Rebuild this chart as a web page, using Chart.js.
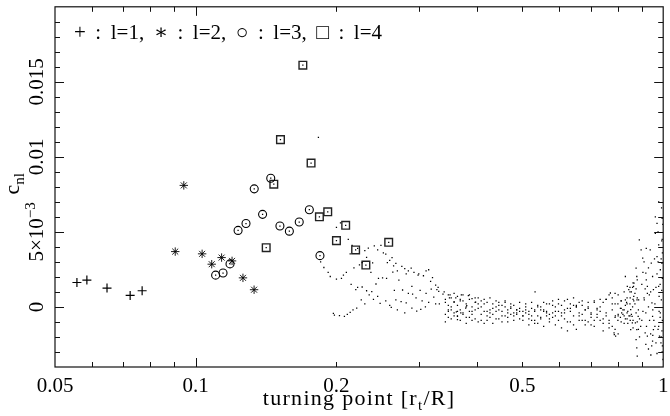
<!DOCTYPE html>
<html>
<head>
<meta charset="utf-8">
<script src="https://cdn.jsdelivr.net/npm/chart.js@4.4.1/dist/chart.umd.min.js"></script>
<style>
  html, body { margin: 0; padding: 0; background: #fff; }
</style>
</head>
<body>
<canvas id="cnlChart" width="670" height="416"></canvas>
<script>
// x = turning point r_t/R, y = c_nl in units of 1e-3
const l1X = [0.0557, 0.0585, 0.0646, 0.0724, 0.0768];
const l1Y = [1.63, 1.79, 1.26, 0.77, 1.08];

const l2X = [0.0904, 0.0943, 0.1032, 0.1082, 0.1136, 0.1196, 0.1262, 0.1333];
const l2Y = [3.69, 8.10, 3.54, 2.85, 3.29, 3.07, 1.94, 1.15];

const l3X = [0.1103, 0.1144, 0.1184, 0.1232, 0.1281, 0.1334, 0.1390, 0.1447, 0.1514, 0.1586, 0.1665, 0.1750, 0.1844];
const l3Y = [2.12, 2.26, 2.87, 5.10, 5.56, 7.87, 6.17, 8.58, 5.39, 5.05, 5.66, 6.48, 3.42];

const l4X = [0.1415, 0.1469, 0.1518, 0.1695, 0.1765, 0.1839, 0.1916, 0.2000, 0.2093, 0.2198, 0.2312, 0.2587];
const l4Y = [3.95, 8.18, 11.15, 16.11, 9.59, 6.01, 6.34, 4.42, 5.44, 3.80, 2.79, 4.31];

// all-mode dots, low turning points
const dotsLow = [
  [0.183, 11.30], [0.204, 5.61], [0.212, 4.51], [0.214, 3.54], [0.230, 3.76], [0.234, 3.92], [0.241, 4.07],
  [0.249, 4.11], [0.255, 3.52], [0.257, 2.96], [0.263, 3.29], [0.265, 2.74], [0.264, 2.32], [0.270, 2.41],
  [0.280, 2.56], [0.289, 2.59], [0.282, 2.21], [0.272, 1.79], [0.299, 2.12], [0.307, 2.08], [0.315, 2.48],
  [0.321, 1.96], [0.326, 1.46], [0.188, 2.63], [0.194, 2.03], [0.200, 1.86], [0.207, 2.12], [0.227, 2.96],
  [0.239, 2.94], [0.237, 2.30], [0.246, 1.90], [0.251, 1.94], [0.256, 1.90], [0.243, 1.53], [0.227, 1.33],
  [0.220, 1.15], [0.232, 1.08], [0.238, 1.02], [0.226, 0.48], [0.248, 0.24], [0.221, -0.07], [0.214, -0.36],
  [0.208, -0.62], [0.203, -0.58], [0.197, -0.42], [0.262, -0.03], [0.266, 1.10], [0.268, 0.48], [0.275, 0.35],
  [0.282, 0.27], [0.277, 1.13], [0.290, 1.37], [0.291, 0.86], [0.290, -0.07], [0.297, -0.27], [0.303, -0.16],
  [0.310, 0.00], [0.302, 1.10], [0.311, 0.90], [0.319, 1.19], [0.323, 0.66], [0.331, 1.04], [0.326, 0.20],
  [0.332, 0.20], [0.349, 0.60], [0.347, -0.29], [0.357, 0.35], [0.363, -0.62], [0.361, -0.33], [0.369, -0.40],
  [0.378, -0.07], [0.380, 0.09], [0.390, 0.55], [0.383, 0.75], [0.328, 1.15], [0.338, 0.86], [0.397, 0.33],
  [0.363, -0.84], [0.532, 1.00],
  [0.185, 3.00], [0.192, 2.30], [0.205, 1.90], [0.210, 2.30], [0.218, 2.60], [0.224, 2.80], [0.232, 3.30],
  [0.245, 3.80], [0.252, 3.60], [0.260, 3.10], [0.268, 2.90], [0.276, 2.70], [0.285, 2.40], [0.293, 2.30],
  [0.300, 2.20], [0.311, 2.40], [0.318, 1.70], [0.330, 1.30], [0.340, 1.00], [0.350, 0.80], [0.360, 0.60],
  [0.370, 0.80], [0.215, 1.50], [0.222, 1.30], [0.235, 0.80], [0.245, 0.70], [0.255, 0.40], [0.260, 0.10],
  [0.270, -0.20], [0.280, -0.40], [0.285, 0.90], [0.296, 0.60], [0.305, 0.40], [0.315, 0.30], [0.198, -0.55],
  [0.211, -0.50], [0.217, -0.20], [0.230, 0.20], [0.240, 0.50], [0.200, 5.30], [0.216, 4.10], [0.222, 3.90]
];

// the band of dots between 0.34 and 0.86
const bandXa = [0.342, 0.352, 0.363, 0.373, 0.385, 0.396, 0.408, 0.420, 0.432, 0.445, 0.459, 0.472, 0.486, 0.501, 0.516, 0.531,
  0.547, 0.563, 0.580, 0.597, 0.615, 0.633, 0.652, 0.671, 0.691, 0.712, 0.733, 0.755, 0.778, 0.801, 0.825, 0.849];
const bandY1 = [0.5, 0.6, 0.7, 0.8, 0.8, 0.6, 0.4, 0.3, 0.2, 0.1, 0.0, -0.1, -0.2, -0.3, -0.3, -0.2, 0.0, 0.2, 0.4, 0.5, 0.4, 0.2, 0.0, 0.1, 0.3, 0.4, 0.5, 0.5, 0.6, 0.8, 1.0, 1.3];
const bandY2 = [0.3, 0.0, -0.3, -0.5, -0.7, -0.8, -0.9, -0.6, -0.1, 0.3, 0.4, 0.0, -0.5, -0.9, -1.2, -1.1, -0.7, -0.3, 0.1, 0.2, -0.4, -1.0, -1.5, -0.9, -0.1, 0.3, 0.0, -0.6, -1.3, -1.8, -0.6, 1.0];
const bandY3 = [-0.5, -0.2, 0.1, 0.4, 0.5, 0.3, 0.0, -0.3, -0.5, -0.2, 0.3, 0.2, -0.2, -0.6, -0.5, -0.3, -0.2, -0.4, -0.7, -0.9, -0.8, -0.3, 0.1, 0.4, 0.0, -0.9, -0.3, 0.5, 0.2, -0.5, -0.2, 0.2];
const bandY4 = [-1.0, -0.8, -0.6, -0.4, -0.3, -0.2, -0.5, -0.9, -1.1, -0.8, -0.6, -0.5, -0.4, -0.6, -0.8, -0.9, -0.8, -0.6, -0.4, -0.3, -0.2, -0.1, 0.0, -0.5, -1.0, -1.3, -0.9, -0.4, -0.2, -0.6, -1.1, -0.6];
const bandXb = [0.347, 0.357, 0.368, 0.379, 0.390, 0.402, 0.414, 0.426, 0.439, 0.452, 0.465, 0.479, 0.493, 0.508, 0.523, 0.539,
  0.555, 0.571, 0.588, 0.606, 0.624, 0.643, 0.661, 0.681, 0.701, 0.722, 0.744, 0.766, 0.789, 0.813, 0.837, 0.862];
const bandY5 = [0.8, 0.9, 0.5, 0.2, 0.0, 0.2, 0.5, 0.6, 0.4, 0.1, -0.2, -0.4, -0.1, 0.2, 0.3, 0.1, -0.2, -0.5, -0.3, 0.1, 0.5, 0.6, 0.3, -0.2, -0.5, -0.1, 0.3, 0.8, 0.9, 0.4, 0.2, 1.6];
const bandY6 = [-0.2, -0.6, -0.9, -0.7, -0.3, -0.1, -0.3, -0.2, 0.0, -0.3, -0.7, -0.9, -0.8, -0.4, -0.1, 0.0, -0.3, -0.8, -1.2, -1.4, -1.6, -1.2, -0.6, -0.2, -0.4, -0.7, -1.1, -1.4, -1.5, -1.0, -0.4, 0.5];
const bandY7 = [0.1, 0.3, 0.4, 0.0, -0.5, -1.0, -1.1, -0.7, -0.3, -0.6, -1.0, -0.6, -0.3, -0.2, -0.6, -1.1, -1.3, -1.0, -0.6, -0.4, -0.1, 0.1, -0.4, -0.9, -1.2, -0.5, -0.8, -1.1, -0.7, -0.1, 0.6, -0.9];
const bandY8 = [-0.7, -0.4, -0.2, -1.1, -0.9, 0.6, 0.2, -0.4, -0.8, -1.0, -0.4, 0.1, 0.3, 0.0, -0.9, -0.6, 0.3, 0.2, 0.0, -0.6, -1.0, -0.6, -0.9, -1.2, -0.7, -0.2, -1.6, -0.9, 0.2, 0.4, -0.8, -1.4];

// scattered dots close to the surface
const dotsEdge = [
  [0.866, 1.59], [0.880, 1.81], [0.872, -1.06], [0.886, 0.48], [0.858, -0.62], [0.852, -0.18], [0.844, 1.15], [0.830, 0.48],
  [0.889, 4.47], [0.897, 3.80], [0.904, 3.25], [0.875, 2.59], [0.878, 2.03], [0.864, 1.37], [0.879, 0.48], [0.884, -0.62],
  [0.878, -1.51], [0.875, -2.17], [0.878, -2.72], [0.880, -3.28], [0.918, 2.26], [0.925, 1.37], [0.911, 0.48], [0.918, -0.40],
  [0.921, -1.29], [0.925, -1.95], [0.918, -2.50], [0.915, -1.73], [0.938, 3.80], [0.943, 2.92], [0.949, 2.03], [0.953, 1.15],
  [0.946, 0.27], [0.949, -0.62], [0.953, -1.51], [0.949, -2.28], [0.962, 6.01], [0.970, 5.57], [0.962, 4.91], [0.978, 4.13],
  [0.970, 3.36], [0.986, 2.48], [0.978, 1.37], [0.991, 0.48], [0.986, -0.40], [0.978, -1.29], [0.982, -1.95], [0.989, -2.39],
  [0.978, 7.00], [0.975, 5.00], [0.830, 2.03], [0.838, 1.37], [0.785, -1.73], [0.791, -1.95], [0.852, -1.51], [0.859, -1.06],
  [0.771, 0.93], [0.786, -1.84], [0.992, 6.6], [0.995, 5.9], [0.993, 4.4], [0.996, 3.6], [0.994, 2.9], [0.996, 1.9],
  [0.993, 1.1], [0.996, -0.9], [0.994, -1.6], [0.996, -2.6], [0.958, 3.2], [0.934, 0.8], [0.930, -2.8], [0.941, -3.2]
];
const edgeZigA = [
  [0.800, 0.2], [0.810, -0.1], [0.815, -0.4], [0.820, -0.2], [0.830, 0.1], [0.835, 0.3], [0.840, -0.3], [0.845, -0.6],
  [0.850, -0.9], [0.855, -0.5], [0.860, 0.0], [0.865, 0.4], [0.870, 0.9], [0.875, 1.2], [0.880, 0.6], [0.885, -0.2],
  [0.890, -0.8], [0.895, -1.3], [0.900, -0.9], [0.905, -0.3], [0.910, 0.6], [0.915, 1.2], [0.920, 1.8], [0.925, 0.9],
  [0.930, 0.0], [0.935, -0.9], [0.940, -1.8], [0.945, -2.6], [0.950, -1.9], [0.955, -0.9], [0.960, 0.2], [0.965, 1.3],
  [0.970, 2.2], [0.975, 3.0], [0.980, 0.7], [0.985, -0.7], [0.990, -2.0], [0.995, -3.0]
];
const edgeZigB = [
  [0.790, -0.6], [0.800, -0.9], [0.810, -0.7], [0.820, -0.5], [0.830, -0.8], [0.840, -1.1], [0.850, 0.6], [0.855, 1.0],
  [0.860, 1.3], [0.865, 0.7], [0.870, 0.2], [0.875, -0.4], [0.880, -1.0], [0.885, -1.5], [0.890, -2.0], [0.900, 1.5],
  [0.905, 2.3], [0.910, 3.0], [0.920, 3.9], [0.930, 2.6], [0.940, 1.0], [0.950, -0.2], [0.960, -1.3], [0.965, -2.4],
  [0.970, -3.1], [0.975, -1.5], [0.980, -0.3], [0.985, 1.5], [0.990, 3.2], [0.995, 4.5], [0.998, 5.5], [0.999, -3.5]
];

// axis decoration
const xTickLabels = ['0.05', '0.1', '0.2', '0.5', '1'];
const xTickValues = [0.05, 0.1, 0.2, 0.5, 1];
const xMinorTicks = [0.06, 0.07, 0.08, 0.09, 0.2, 0.3, 0.4, 0.5, 0.6, 0.7, 0.8, 0.9];
const xMajorTicks = [0.1];
const yLabelValues = [0, 5, 10, 15];
const keyText = '+ : l=1, ∗ : l=2, ○ : l=3, □ : l=4';

const serif = '"Liberation Serif", "DejaVu Serif", serif';

function pts(xs, ys) {
  return xs.map((x, i) => ({ x: x, y: ys[i] }));
}
function pairs(list) {
  return list.map(p => ({ x: p[0], y: p[1] }));
}

// draw a run of text pieces (size, vertical shift) starting at x
function richText(ctx, parts, x, y, align) {
  let total = 0;
  parts.forEach(p => { ctx.font = p.size + 'px ' + serif; p.w = ctx.measureText(p.t).width; total += p.w; });
  let cx = align === 'center' ? x - total / 2 : x;
  parts.forEach(p => {
    ctx.font = p.size + 'px ' + serif;
    ctx.fillText(p.t, cx, y + (p.dy || 0));
    cx += p.w;
  });
}

const framePlugin = {
  id: 'frame',
  afterDatasetsDraw(chart) {
    const ctx = chart.ctx;
    const a = chart.chartArea;
    const xs = chart.scales.x, ys = chart.scales.y;
    ctx.save();
    ctx.strokeStyle = '#111';
    ctx.fillStyle = '#000';
    ctx.lineWidth = 1.2;
    ctx.strokeRect(a.left, a.top, a.right - a.left, a.bottom - a.top);

    ctx.lineWidth = 1;
    ctx.beginPath();
    xMinorTicks.concat(xMajorTicks).forEach(v => {
      const px = Math.round(xs.getPixelForValue(v)) + 0.5;
      const len = xMajorTicks.includes(v) ? 9 : 5;
      ctx.moveTo(px, a.bottom); ctx.lineTo(px, a.bottom - len);
      ctx.moveTo(px, a.top); ctx.lineTo(px, a.top + len);
    });
    for (let v = ys.min + 1; v < ys.max; v++) {
      const py = Math.round(ys.getPixelForValue(v)) + 0.5;
      const len = v % 5 === 0 ? 9 : 5;
      ctx.moveTo(a.left, py); ctx.lineTo(a.left + len, py);
      ctx.moveTo(a.right, py); ctx.lineTo(a.right - len, py);
    }
    ctx.stroke();

    // x tick labels
    ctx.textAlign = 'left';
    ctx.textBaseline = 'alphabetic';
    xTickValues.forEach((v, i) => {
      richText(ctx, [{ t: xTickLabels[i], size: 21 }], xs.getPixelForValue(v), a.bottom + 25, 'center');
    });

    // y tick labels, rotated
    yLabelValues.forEach(v => {
      const py = ys.getPixelForValue(v);
      let parts;
      if (v === 0) parts = [{ t: '0', size: 21 }];
      else if (v === 5) parts = [{ t: '5×10', size: 21 }, { t: '−3', size: 15, dy: -8 }];
      else parts = [{ t: String(+(v / 1000).toFixed(3)), size: 21 }];
      ctx.save();
      ctx.translate(a.left - 12, py);
      ctx.rotate(-Math.PI / 2);
      richText(ctx, parts, 0, 0, 'center');
      ctx.restore();
    });

    // axis titles
    const midX = (a.left + a.right) / 2;
    ctx.letterSpacing = '1.3px';
    richText(ctx, [{ t: 'turning point [r', size: 22 }, { t: 't', size: 15, dy: 5 }, { t: '/R]', size: 22 }],
      midX, a.bottom + 38, 'center');
    ctx.letterSpacing = '0px';
    ctx.save();
    ctx.translate(19, (a.top + a.bottom) / 2 - 3);
    ctx.rotate(-Math.PI / 2);
    richText(ctx, [{ t: 'c', size: 22 }, { t: 'nl', size: 15, dy: 5 }], 0, 0, 'center');
    ctx.restore();

    // key, stretched to the width it has in the original
    ctx.font = '21px ' + serif;
    const w0 = ctx.measureText(keyText).width;
    const gaps = keyText.split(' ').length - 1;
    ctx.wordSpacing = Math.max(0, (308 - w0) / gaps) + 'px';
    ctx.fillText(keyText, a.left + 19, a.top + 32);
    ctx.wordSpacing = '0px';
    ctx.restore();
  }
};

const dotStyle = { pointStyle: 'rect', pointRadius: 0.9, backgroundColor: '#000', borderWidth: 0 };
const dotSets = [pairs(dotsLow), pts(bandXa, bandY1), pts(bandXa, bandY2), pts(bandXa, bandY3), pts(bandXa, bandY4),
  pts(bandXb, bandY5), pts(bandXb, bandY6), pts(bandXb, bandY7), pts(bandXb, bandY8),
  pairs(dotsEdge), pairs(edgeZigA), pairs(edgeZigB)];

const datasets = dotSets.map(d => Object.assign({ label: 'all modes', data: d }, dotStyle));
datasets.push(
  { label: 'l=1', data: pts(l1X, l1Y), pointStyle: 'cross', pointRadius: 4.5, borderColor: '#000', borderWidth: 1.2 },
  { label: 'l=2', data: pts(l2X, l2Y), pointStyle: 'star', pointRadius: 4.2, borderColor: '#000', borderWidth: 0.9 },
  { label: 'l=3', data: pts(l3X, l3Y), pointStyle: 'circle', pointRadius: 4, backgroundColor: 'rgba(0,0,0,0)', borderColor: '#000', borderWidth: 1.1 },
  { label: 'l=4', data: pts(l4X, l4Y), pointStyle: 'rect', pointRadius: 5.4, backgroundColor: 'rgba(0,0,0,0)', borderColor: '#222', borderWidth: 1.4 },
  Object.assign({ label: 'centres', data: pts(l3X, l3Y).concat(pts(l4X, l4Y)) }, dotStyle)
);

new Chart(document.getElementById('cnlChart').getContext('2d'), {
  type: 'scatter',
  data: { datasets: datasets },
  options: {
    responsive: false,
    animation: false,
    devicePixelRatio: 1,
    layout: { padding: { left: 55, top: 5, right: 3, bottom: 49 } },
    plugins: { legend: { display: false }, tooltip: { enabled: false } },
    scales: {
      x: { type: 'logarithmic', min: 0.05, max: 1, display: false },
      y: { type: 'linear', min: -4, max: 20, display: false }
    }
  },
  plugins: [framePlugin]
});
</script>
</body>
</html>
